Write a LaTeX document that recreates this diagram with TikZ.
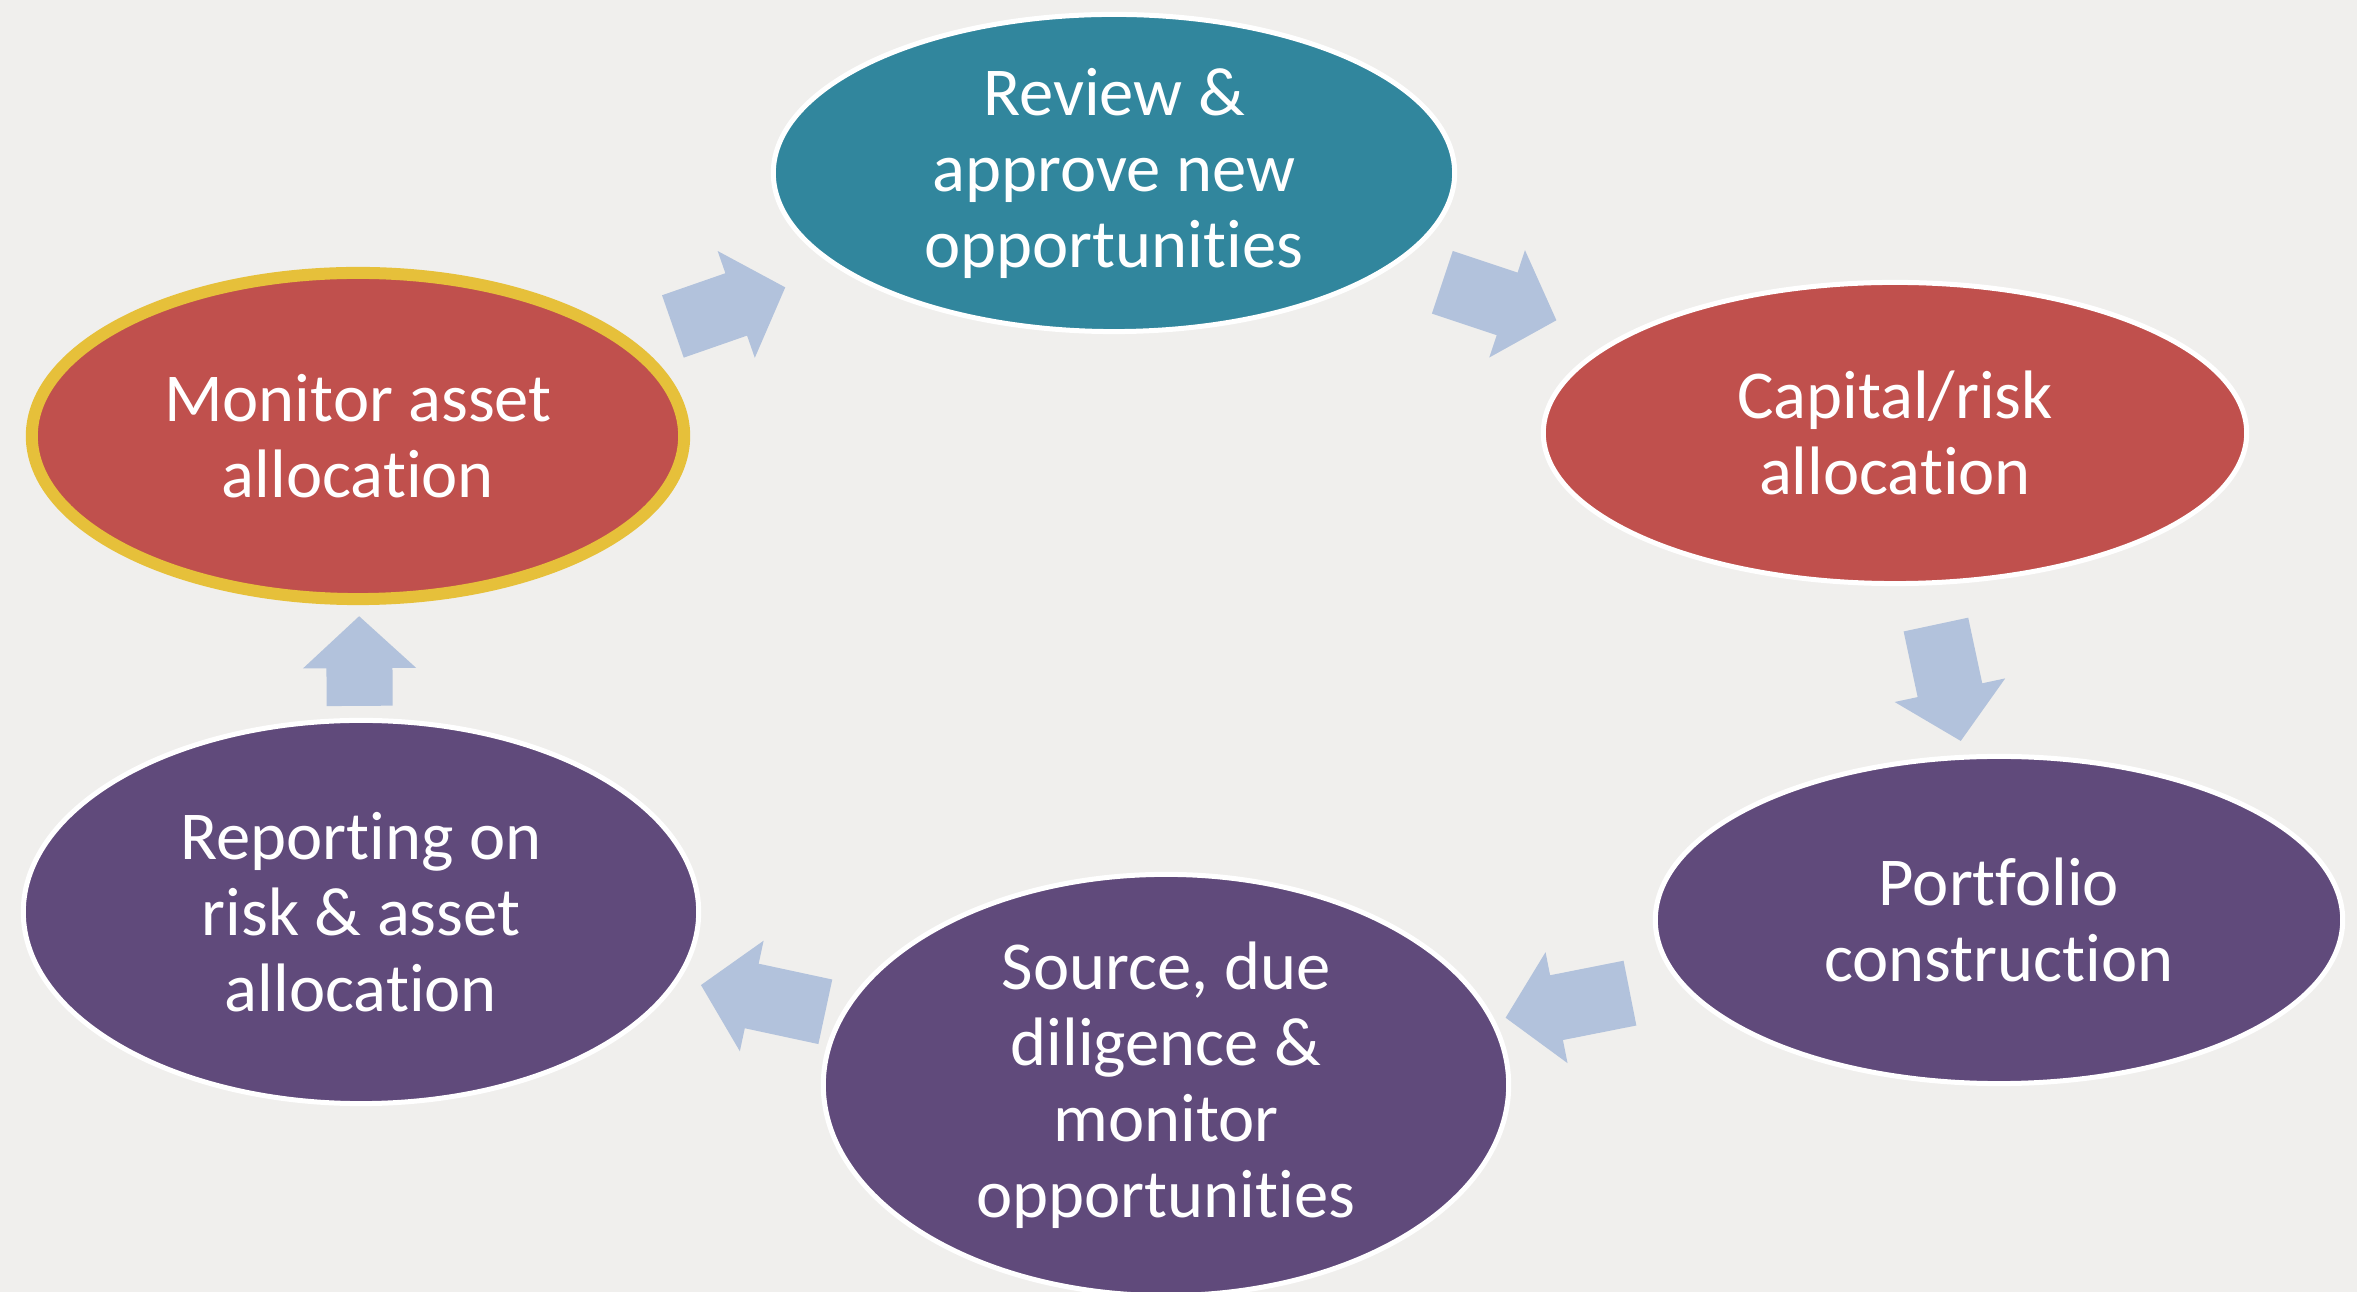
\documentclass[tikz,border=0pt]{standalone}
\usepackage{fontspec}
\setmainfont{Carlito}[Ligatures={NoCommon}]
\usetikzlibrary{arrows.meta, shapes.geometric}
\definecolor{cyteal}{HTML}{31869D}
\definecolor{cyred}{HTML}{C0504D}
\definecolor{cypurple}{HTML}{604A7B}
\definecolor{cygold}{HTML}{E6C03A}
\definecolor{cyarrow}{HTML}{B2C2DC}
\definecolor{cyback}{HTML}{F0EFED}

\begin{document}
\begin{tikzpicture}[x=0.01cm, y=-0.01cm,
    stage/.style={ellipse, fill=#1, draw=white, line width=0.05cm, inner sep=0pt,
                  align=center, text=white, font=\fontsize{19.5}{21.6}\selectfont},
    flow/.style={-{Triangle[length=0.52cm, width=1.1cm]}, line width=0.66cm, cyarrow}
  ]
    \fill[cyback] (0,0) rectangle (2357,1292);
    \useasboundingbox (0,0) rectangle (2357,1292);
    \clip (0,0) rectangle (2357,1292);

    \node[stage=cyteal, minimum width=6.81cm, minimum height=3.17cm] (review) at (1114,173) {Review \&\\approve new\\opportunities};
    \node[stage=cyred, minimum width=7.03cm, minimum height=3.01cm] (capital) at (1895,433) {Capital/risk\\allocation};
    \node[stage=cypurple, minimum width=6.87cm, minimum height=3.27cm] (portfolio) at (1999,920) {Portfolio\\construction};
    \node[stage=cypurple, minimum width=6.85cm, minimum height=4.21cm] (source) at (1166,1085) {Source, due\\diligence \&\\monitor\\opportunities};
    \node[stage=cypurple, minimum width=6.75cm, minimum height=3.83cm] (reporting) at (361,912) {Reporting on\\risk \& asset\\allocation};
    \node[stage=cyred, draw=cygold, line width=0.12cm, minimum width=6.52cm, minimum height=3.26cm] (monitor) at (358,436) {Monitor asset\\allocation};

    \draw[flow, shorten <=0.43cm, shorten >=0.56cm] (monitor) -- (review);
    \draw[flow, shorten <=0.51cm, shorten >=0.61cm] (review) -- (capital);
    \draw[flow, shorten <=0.40cm, shorten >=0.14cm] (capital) -- (portfolio);
    \draw[flow, shorten <=0.50cm, shorten >=0.11cm] (portfolio) -- (source);
    \draw[flow, shorten <=0.15cm, shorten >=0.22cm] (source) -- (reporting);
    \draw[flow, shorten <=0.12cm, shorten >=0.11cm] (reporting) -- (monitor);
  \end{tikzpicture}
\end{document}
